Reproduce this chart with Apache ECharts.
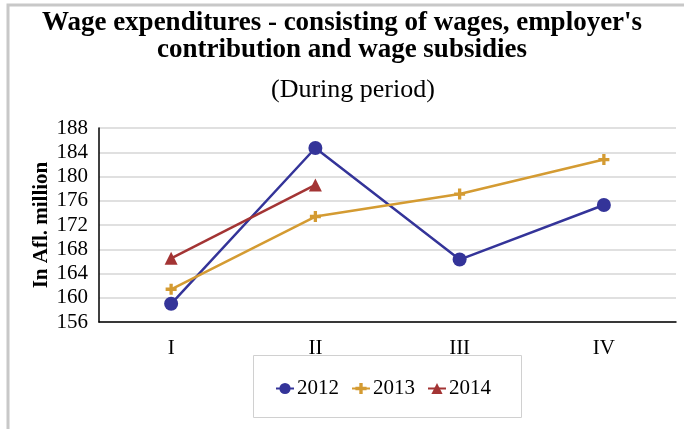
<!DOCTYPE html>
<html>
<head>
<meta charset="utf-8">
<script src="https://cdn.jsdelivr.net/npm/echarts@6/dist/echarts.min.js"></script>
<style>
  html, body { margin: 0; padding: 0; background: #fff; }
  #chart { width: 684px; height: 429px; }
</style>
</head>
<body>
<div id="chart"></div>
<script>
// Quarterly wage expenditures (Afl. million)
const quarters = ['I', 'II', 'III', 'IV'];
const values2012 = [159.0, 184.7, 166.3, 175.3];
const values2013 = [161.4, 173.4, 177.1, 182.8];
const values2014 = [166.5, 178.6, null, null];
const yTicks = { min: 156, max: 188, step: 4 };

const serif = '"Liberation Serif", "Times New Roman", serif';
const plusPath = 'path://M3.5,0H6.5V3.5H10V6.5H6.5V10H3.5V6.5H0V3.5H3.5Z';

const chart = echarts.init(document.getElementById('chart'), null, { renderer: 'canvas' });

chart.setOption({
  animation: false,
  backgroundColor: '#ffffff',
  title: [
    {
      text: "Wage expenditures - consisting of wages, employer's\ncontribution and wage subsidies",
      left: 'center',
      top: 5,
      textStyle: { fontFamily: serif, fontSize: 27, fontWeight: 'bold', color: '#000', lineHeight: 27 }
    },
    {
      text: '(During period)',
      left: 266,
      top: 72,
      textStyle: { fontFamily: serif, fontSize: 26, fontWeight: 'normal', color: '#000' }
    }
  ],
  graphic: [
    {
      type: 'rect',
      shape: { x: 8, y: 5, width: 700, height: 450 },
      style: { fill: 'none', stroke: '#c8c8c8', lineWidth: 3 },
      silent: true
    },
    {
      type: 'rect',
      shape: { x: 253.5, y: 355.5, width: 268, height: 62 },
      style: { fill: 'none', stroke: '#d0d0d0', lineWidth: 1 },
      silent: true
    }
  ],
  legend: {
    top: 373,
    left: 270,
    itemGap: 12,
    itemWidth: 18,
    itemHeight: 14,
    textStyle: { fontFamily: serif, fontSize: 21, color: '#000', padding: [0, 0, 0, -2] },
    data: ['2012', '2013', '2014']
  },
  grid: { left: 99, right: 8, top: 128, bottom: 107 },
  xAxis: {
    type: 'category',
    data: quarters,
    boundaryGap: true,
    axisLine: { lineStyle: { color: '#000', width: 1.5 } },
    axisTick: { show: false },
    axisLabel: { fontFamily: serif, fontSize: 21, color: '#000', margin: 16 }
  },
  yAxis: {
    type: 'value',
    min: yTicks.min,
    max: yTicks.max,
    interval: yTicks.step,
    name: 'In Afl. million',
    nameLocation: 'middle',
    nameGap: 47,
    nameMoveOverlap: false,
    nameTextStyle: { fontFamily: serif, fontSize: 21, fontWeight: 'bold', color: '#000' },
    axisLine: { show: true, lineStyle: { color: '#000', width: 1.5 } },
    axisTick: { show: false },
    axisLabel: { fontFamily: serif, fontSize: 21, color: '#000', margin: 11 },
    splitLine: { lineStyle: { color: '#d6d6d6', width: 1.5 } }
  },
  series: [
    {
      name: '2012',
      type: 'line',
      data: values2012,
      symbol: 'circle',
      symbolSize: 14,
      itemStyle: { color: '#343499' },
      lineStyle: { color: '#343499', width: 2.5 }
    },
    {
      name: '2013',
      type: 'line',
      data: values2013,
      symbol: plusPath,
      symbolSize: 11,
      itemStyle: { color: '#D49B32' },
      lineStyle: { color: '#D49B32', width: 2.5 }
    },
    {
      name: '2014',
      type: 'line',
      data: values2014,
      symbol: 'triangle',
      symbolSize: 13,
      connectNulls: false,
      itemStyle: { color: '#A33434' },
      lineStyle: { color: '#A33434', width: 2.5 }
    }
  ]
});
</script>
</body>
</html>
